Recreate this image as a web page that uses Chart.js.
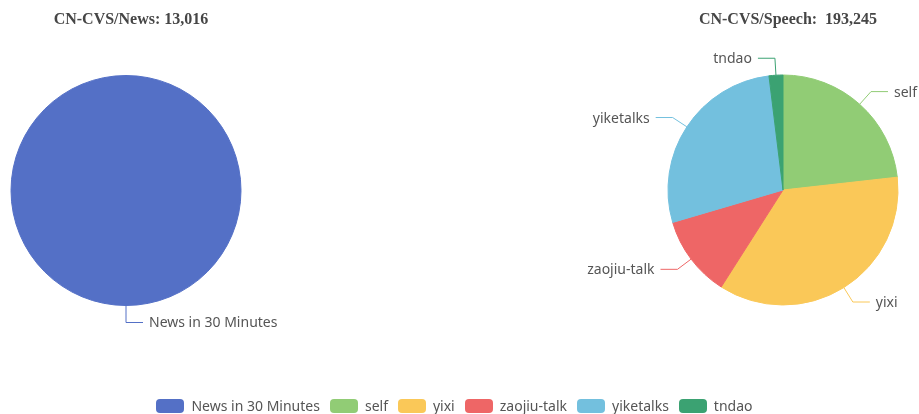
<!DOCTYPE html>
<html>
<head>
<meta charset="utf-8">
<script src="https://cdn.jsdelivr.net/npm/chart.js@4.4.1/dist/chart.umd.min.js"></script>
<style>
    html, body { margin: 0; padding: 0; background: #fff; }
    #wrap { position: relative; width: 919px; height: 414px; overflow: hidden; }
    .layer { position: absolute; left: 0; top: 0; width: 919px; height: 414px; }
    .title {
        position: absolute; top: 10px; transform: translateX(-50%);
        font: bold 16px 'Liberation Serif', 'Times New Roman', serif;
        line-height: 18px; color: #464646; white-space: pre;
    }
    #legend {
        position: absolute; left: 0; top: 399px; width: 909px;
        display: flex; justify-content: center;
        font: 14px 'Noto Sans', sans-serif; color: #555; line-height: 14px;
    }
    .item { display: flex; align-items: center; margin: 0 5px; }
    .swatch { width: 28px; height: 14px; border-radius: 4px; margin-right: 7px; }
</style>
</head>
<body>
<div id="wrap">
    <canvas id="newsChart" class="layer" width="919" height="414"></canvas>
    <canvas id="speechChart" class="layer" width="919" height="414"></canvas>
    <div id="newsTitle" class="title" style="left:131px"></div>
    <div id="speechTitle" class="title" style="left:788px"></div>
    <div id="legend"></div>
</div>
<script>
// ===============================================
// DATA
// ===============================================
const newsCategories = ['News in 30 Minutes'];
const newsValues = [13016];
const newsColors = ['#5470c6'];

const speechCategories = ['self', 'yixi', 'zaojiu-talk', 'yiketalks', 'tndao'];
const speechValues = [44880, 69190, 22070, 53340, 3765];
const speechColors = ['#91cc75', '#fac858', '#ee6666', '#73c0de', '#3ba272'];

const sum = (arr) => arr.reduce((a, b) => a + b, 0);
const fmt = (n) => n.toLocaleString('en-US');

document.getElementById('newsTitle').textContent = 'CN-CVS/News: ' + fmt(sum(newsValues));
document.getElementById('speechTitle').textContent = 'CN-CVS/Speech:  ' + fmt(sum(speechValues));

// outside labels with an elbow leader line (echarts look)
const outsideLabels = {
    id: 'outsideLabels',
    afterDatasetsDraw(chart) {
        const ctx = chart.ctx;
        const meta = chart.getDatasetMeta(0);
        const ds = chart.data.datasets[0];
        const len1 = 17, len2 = 17, gap = 6;
        ctx.save();
        ctx.font = "14px 'Noto Sans', sans-serif";
        ctx.textBaseline = 'middle';
        meta.data.forEach((arc, i) => {
            const p = arc.getProps(['x', 'y', 'startAngle', 'endAngle', 'outerRadius'], true);
            const mid = (p.startAngle + p.endAngle) / 2;
            const cos = Math.cos(mid), sin = Math.sin(mid);
            const x0 = p.x + cos * p.outerRadius, y0 = p.y + sin * p.outerRadius;
            const x1 = p.x + cos * (p.outerRadius + len1), y1 = p.y + sin * (p.outerRadius + len1);
            const dir = cos >= -1e-9 ? 1 : -1;
            const x2 = x1 + dir * len2;
            ctx.strokeStyle = ds.backgroundColor[i];
            ctx.lineWidth = 1;
            ctx.beginPath();
            ctx.moveTo(x0, y0);
            ctx.lineTo(x1, y1);
            ctx.lineTo(x2, y1);
            ctx.stroke();
            ctx.fillStyle = '#555';
            ctx.textAlign = dir > 0 ? 'left' : 'right';
            ctx.fillText(chart.data.labels[i], x2 + dir * gap, y1 + 1);
        });
        ctx.restore();
    }
};

function makePie(id, labels, values, colors, padding) {
    return new Chart(document.getElementById(id), {
        type: 'pie',
        data: {
            labels: labels,
            datasets: [{
                data: values,
                backgroundColor: colors,
                borderColor: colors,
                borderWidth: 1,
                radius: 115
            }]
        },
        options: {
            responsive: false,
            animation: false,
            layout: { padding: padding },
            plugins: {
                legend: { display: false },
                tooltip: { enabled: false }
            }
        },
        plugins: [outsideLabels]
    });
}

makePie('newsChart', newsCategories, newsValues, newsColors,
    { left: 0, right: 667, top: 0, bottom: 33 });
makePie('speechChart', speechCategories, speechValues, speechColors,
    { left: 653, right: 6, top: 0, bottom: 34 });

// shared legend
const legend = document.getElementById('legend');
newsCategories.concat(speechCategories).forEach((name, i) => {
    const color = newsColors.concat(speechColors)[i];
    const item = document.createElement('div');
    item.className = 'item';
    item.innerHTML = '<span class="swatch" style="background:' + color + '"></span><span>' + name + '</span>';
    legend.appendChild(item);
});
</script>
</body>
</html>
